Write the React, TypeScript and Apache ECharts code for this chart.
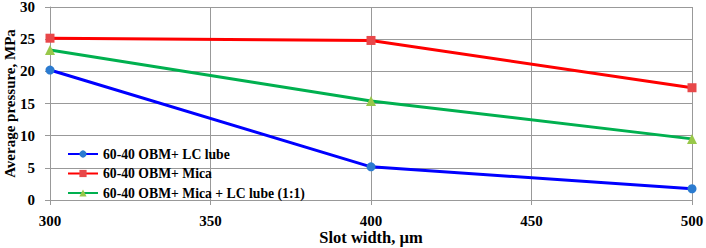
import React, { useEffect, useRef } from "react";
import * as echarts from "echarts";

const slotWidths = [300, 400, 500];
const lcLube = [20.2, 5.15, 1.75];
const mica = [25.15, 24.8, 17.45];
const micaLc = [23.3, 15.4, 9.5];
const seriesNames = ["60-40 OBM+ LC lube", "60-40 OBM+ Mica", "60-40 OBM+ Mica + LC lube (1:1)"];

const FONT = "'Liberation Serif', 'Times New Roman', serif";

export default function App() {
  const ref = useRef<HTMLDivElement>(null);
  useEffect(() => {
    if (!ref.current) return;
    const chart = echarts.init(ref.current, undefined, { renderer: "svg" });
    const mk = (vals: number[]) => vals.map((v, i) => [slotWidths[i], v]);
    chart.setOption({
      animation: false,
      backgroundColor: "#fff",
      grid: { left: 50, right: 14, top: 7, bottom: 48, containLabel: false, outerBoundsMode: "none" },
      legend: {
        left: 62,
        top: 142,
        orient: "vertical",
        itemWidth: 30,
        itemHeight: 9,
        itemGap: 5.5,
        textStyle: { fontFamily: FONT, fontWeight: "bold", fontSize: 13.7, color: "#000", lineHeight: 13 },
        data: seriesNames,
      },
      xAxis: {
        type: "value",
        min: 300,
        max: 500,
        interval: 50,
        name: "Slot width, µm",
        nameLocation: "middle",
        nameGap: 29,
        nameMoveOverlap: false,
        nameTextStyle: { fontFamily: FONT, fontWeight: "bold", fontSize: 16.5, color: "#000" },
        axisLine: { lineStyle: { color: "#999", width: 1 } },
        axisTick: { show: true, length: 5, lineStyle: { color: "#999" } },
        axisLabel: { fontFamily: FONT, fontWeight: "bold", fontSize: 15, color: "#000", margin: 13 },
        splitLine: { show: true, lineStyle: { color: "#999", width: 1 } },
      },
      yAxis: {
        type: "value",
        min: 0,
        max: 30,
        interval: 5,
        name: "Average pressure, MPa",
        nameLocation: "middle",
        nameGap: 33,
        nameMoveOverlap: false,
        nameTextStyle: { fontFamily: FONT, fontWeight: "bold", fontSize: 15, color: "#000" },
        axisLine: { show: true, lineStyle: { color: "#999", width: 1 } },
        axisTick: { show: true, length: 5, lineStyle: { color: "#999" } },
        axisLabel: { fontFamily: FONT, fontWeight: "bold", fontSize: 15, color: "#000", margin: 15 },
        splitLine: { show: true, lineStyle: { color: "#999", width: 1 } },
      },
      series: [
        {
          name: seriesNames[0],
          type: "line",
          data: mk(lcLube),
          symbol: "circle",
          symbolSize: 9,
          lineStyle: { color: "#0000ff", width: 3 },
          itemStyle: { color: "#2b7bd0" },
        },
        {
          name: seriesNames[1],
          type: "line",
          data: mk(mica),
          symbol: "rect",
          symbolSize: 9,
          lineStyle: { color: "#ff0000", width: 3 },
          itemStyle: { color: "#e8484a" },
        },
        {
          name: seriesNames[2],
          type: "line",
          data: mk(micaLc),
          symbol: "triangle",
          symbolSize: 10,
          lineStyle: { color: "#00b04f", width: 3 },
          itemStyle: { color: "#98c84a" },
        },
      ],
    });
    return () => chart.dispose();
  }, []);
  return <div ref={ref} style={{ width: 706, height: 248, position: "absolute", left: 0, top: 0 }} />;
}
